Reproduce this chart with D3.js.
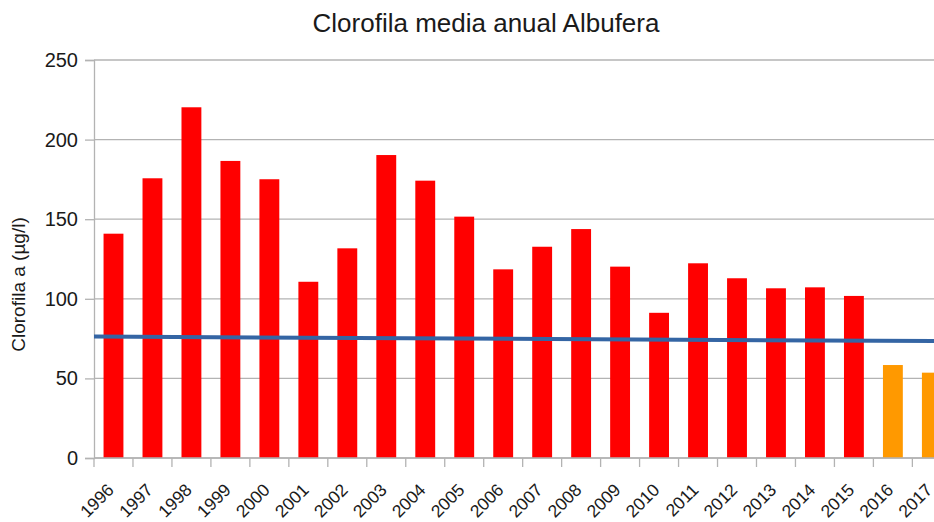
<!DOCTYPE html>
<html>
<head>
<meta charset="utf-8">
<script src="https://cdn.jsdelivr.net/npm/d3@7"></script>
<style>
  html, body { margin: 0; padding: 0; background: #fff; overflow: hidden; }
  text { font-family: "Liberation Sans", Arial, sans-serif; fill: #1a1a1a; }
</style>
</head>
<body>
<svg id="chart" width="934" height="522"></svg>
<script>
const years = ["1996","1997","1998","1999","2000","2001","2002","2003","2004","2005","2006",
               "2007","2008","2009","2010","2011","2012","2013","2014","2015","2016","2017"];
const values = [140.9, 175.7, 220.3, 186.6, 175.1, 110.7, 131.7, 190.3, 174.2, 151.6, 118.5,
                132.7, 143.8, 120.2, 91.2, 122.3, 112.9, 106.6, 107.2, 101.8, 58.4, 53.6];
const barGroup = ["obs","obs","obs","obs","obs","obs","obs","obs","obs","obs","obs",
                  "obs","obs","obs","obs","obs","obs","obs","obs","obs","new","new"];
const trendValues = [76.3, 73.4];   // reference line, start and end of plot
const yTicks = [0, 50, 100, 150, 200, 250];
const title = "Clorofila media anual Albufera";
const yLabel = "Clorofila a (µg/l)";

const colors = { obs: "#ff0000", new: "#ff9900" };

(function () {
const svg = d3.select("#chart");
const mLeft = 94, mTop = 60, mBottom = 458;
const step = 38.97;
const mRight = mLeft + step * years.length;

const x = d3.scaleBand().domain(years).range([mLeft, mRight]).paddingInner(0.49).paddingOuter(0.245);
const y = d3.scaleLinear().domain([0, 250]).range([mBottom, mTop]);

// gridlines
svg.append("g").selectAll("line").data(yTicks).join("line")
  .attr("x1", mLeft).attr("x2", 934)
  .attr("y1", d => y(d)).attr("y2", d => y(d))
  .attr("stroke", "#b3b3b3").attr("stroke-width", 1.3);

// bars
svg.append("g").selectAll("rect").data(years).join("rect")
  .attr("x", d => x(d)).attr("width", x.bandwidth())
  .attr("y", (d, i) => y(values[i]))
  .attr("height", (d, i) => y(0) - y(values[i]))
  .attr("fill", (d, i) => colors[barGroup[i]]);

// y axis
const yAxis = d3.axisLeft(y).tickValues(yTicks).tickSize(9).tickPadding(7);
const gy = svg.append("g").attr("transform", `translate(${mLeft},0)`).call(yAxis);
gy.select(".domain").attr("stroke", "#b3b3b3").attr("stroke-width", 1.3);
gy.selectAll(".tick line").attr("stroke", "#b3b3b3").attr("stroke-width", 1.3);
gy.selectAll(".tick text").attr("font-size", 20).attr("fill", "#1a1a1a")
  .style("font-family", "Liberation Sans, Arial, sans-serif");

// x axis with ticks between categories
const gx = svg.append("g").attr("transform", `translate(0,${mBottom})`);
gx.append("line").attr("x1", mLeft).attr("x2", 934).attr("y1", 0).attr("y2", 0)
  .attr("stroke", "#b3b3b3").attr("stroke-width", 1.3);
const boundaries = years.map((d, i) => mLeft + i * step).concat([mRight]);
gx.selectAll("line.tk").data(boundaries).join("line").attr("class", "tk")
  .attr("x1", d => d).attr("x2", d => d).attr("y1", 0).attr("y2", 9)
  .attr("stroke", "#b3b3b3").attr("stroke-width", 1.3);
gx.selectAll("text").data(years).join("text")
  .attr("transform", d => `translate(${x(d) + x.bandwidth() / 2 + 1.5},${33}) rotate(-45)`)
  .attr("text-anchor", "end")
  .attr("font-size", 17.5)
  .text(d => d);

// trend line
const trendX = [mLeft, mRight];
const line = d3.line().x((d, i) => trendX[i]).y(d => y(d));
svg.append("path").datum(trendValues).attr("d", line)
  .attr("fill", "none").attr("stroke", "#3465a4").attr("stroke-width", 4);

// title
svg.append("text").attr("x", 486).attr("y", 32).attr("text-anchor", "middle")
  .attr("font-size", 26).text(title);

// y label
svg.append("text").attr("transform", `translate(25,284.5) rotate(-90)`)
  .attr("text-anchor", "middle").attr("font-size", 19).text(yLabel);
})();
</script>
</body>
</html>
